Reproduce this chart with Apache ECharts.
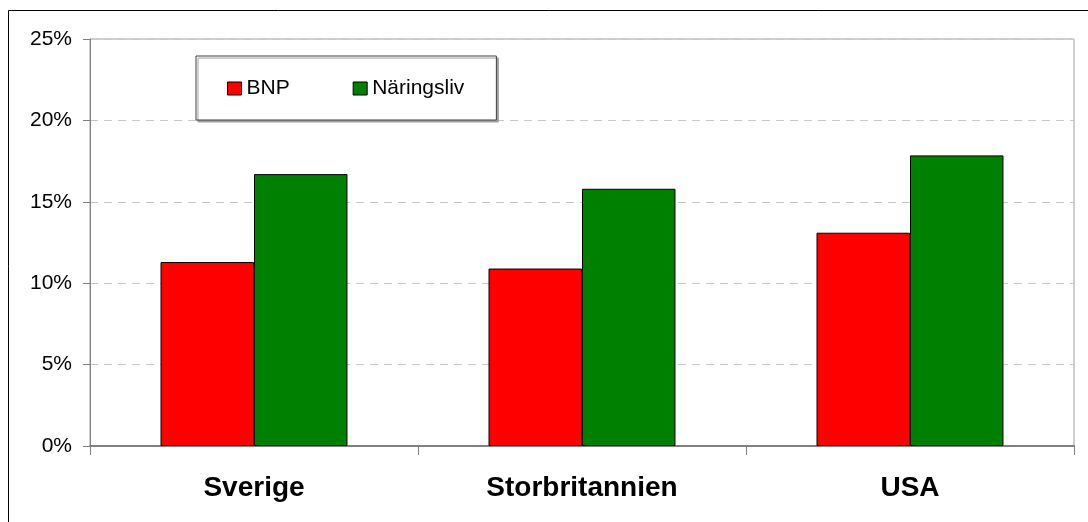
<!DOCTYPE html>
<html>
<head>
<meta charset="utf-8">
<script src="https://cdn.jsdelivr.net/npm/echarts@6/dist/echarts.min.js"></script>
<style>
  html, body { margin: 0; padding: 0; background: #fff; }
  #chart { width: 1088px; height: 522px; }
</style>
</head>
<body>
<div id="chart"></div>
<script>
// data
var countries = ["Sverige", "Storbritannien", "USA"];
var bnp = [11.3, 10.9, 13.1];
var naringsliv = [16.7, 15.8, 17.85];
var yTicks = [0, 5, 10, 15, 20, 25];

var font = "Arial, 'Liberation Sans', sans-serif";

var chart = echarts.init(document.getElementById("chart"));
var option = {
  animation: false,
  textStyle: { fontFamily: font },
  graphic: [
    {
      // outer frame, only top and left visible
      type: "rect",
      shape: { x: 8.5, y: 10.5, width: 1200, height: 700 },
      style: { fill: "none", stroke: "#000", lineWidth: 1 },
      z: -1
    }
  ],
  grid: {
    left: 90,
    right: 14,
    top: 39,
    bottom: 76,
    show: true,
    borderColor: "#a0a0a0",
    borderWidth: 1
  },
  legend: {
    left: 196,
    top: 56,
    orient: "horizontal",
    data: ["BNP", "Näringsliv"],
    icon: "rect",
    itemWidth: 14,
    itemHeight: 13,
    itemGap: 63,
    padding: [22, 32, 21, 31],
    borderColor: "#404040",
    borderWidth: 1,
    backgroundColor: "#fff",
    shadowColor: "#a0a0a0",
    shadowOffsetX: 2,
    shadowOffsetY: 2,
    shadowBlur: 0,
    itemStyle: { borderColor: "#000", borderWidth: 1 },
    textStyle: { fontSize: 21, color: "#000", fontFamily: font }
  },
  xAxis: {
    type: "category",
    data: countries,
    axisLine: { lineStyle: { color: "#808080", width: 2 } },
    axisTick: { show: true, length: 9, lineStyle: { color: "#808080" } },
    axisLabel: {
      margin: 28,
      fontSize: 28,
      fontWeight: "bold",
      color: "#000",
      fontFamily: font
    }
  },
  yAxis: {
    type: "value",
    min: yTicks[0],
    max: yTicks[yTicks.length - 1],
    interval: 5,
    axisLine: { show: true, lineStyle: { color: "#808080", width: 1 } },
    axisTick: { show: true, length: 7, lineStyle: { color: "#808080" } },
    axisLabel: {
      formatter: "{value}%",
      margin: 18,
      fontSize: 21,
      color: "#000",
      fontFamily: font
    },
    splitLine: {
      show: true,
      lineStyle: { color: "#c8c8c8", type: [8, 6], width: 1 }
    }
  },
  series: [
    {
      name: "BNP",
      type: "bar",
      data: bnp,
      barGap: "0%",
      barCategoryGap: "43%",
      itemStyle: { color: "#ff0000", borderColor: "#000", borderWidth: 1 }
    },
    {
      name: "Näringsliv",
      type: "bar",
      data: naringsliv,
      itemStyle: { color: "#008000", borderColor: "#000", borderWidth: 1 }
    }
  ]
};
chart.setOption(option);
</script>
</body>
</html>
